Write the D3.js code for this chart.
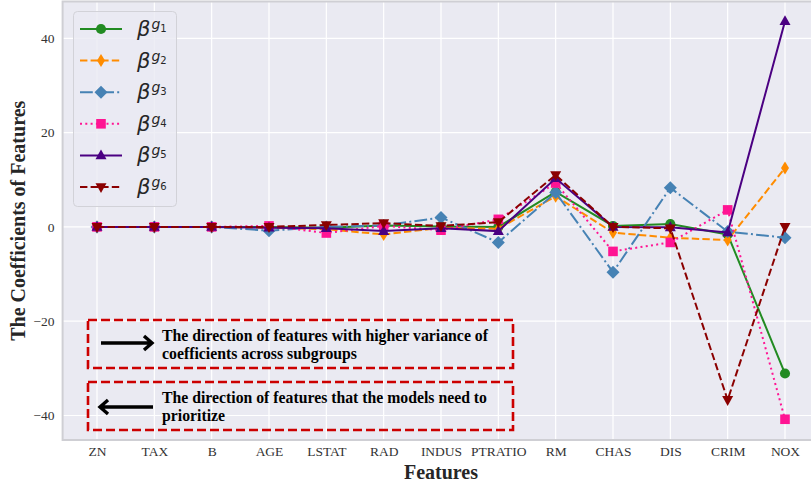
<!DOCTYPE html>
<html lang="en">
<head>
<meta charset="UTF-8">
<title>Coefficients of Features</title>
<style>
  body { margin: 0; background: #fff; }
  svg { display: block; }
  .tick text { font-family: "Liberation Serif", "Times New Roman", serif; }
</style>
</head>
<body>
<script src="https://cdnjs.cloudflare.com/ajax/libs/d3/7.8.5/d3.min.js"></script>
<script>
'use strict';
// feature names on the x axis
const features = ["ZN", "TAX", "B", "AGE", "LSTAT", "RAD", "INDUS", "PTRATIO", "RM", "CHAS", "DIS", "CRIM", "NOX"];
const yTicks = [-40, -20, 0, 20, 40];

// coefficients per subgroup
const g1 = [0, 0, 0, 0, -0.2, 0.3, 0.1, 0, 7.4, 0.2, 0.6, -1.6, -31.1];
const g2 = [0, 0, 0, -0.2, -0.5, -1.6, -0.2, -0.4, 6.5, -1.2, -2.3, -2.8, 12.5];
const g3 = [0, 0, 0, -0.8, 0, 0.3, 2.0, -3.3, 7.3, -9.6, 8.3, -1.0, -2.3];
const g4 = [0, 0, 0, 0.2, -1.3, 0.2, -0.7, 1.6, 9.3, -5.2, -3.3, 3.6, -40.8];
const g5 = [0, 0, 0, -0.2, -0.3, -0.9, -0.3, -0.9, 10.3, 0, -0.1, -1.2, 43.6];
const g6 = [0, 0, 0, 0, 0.4, 0.8, 0.2, 1.0, 11.0, 0, -0.3, -36.7, 0];

const groupNames = ["1", "2", "3", "4", "5", "6"];

const series = [
  {name: groupNames[0], values: g1, color: "#228B22", dash: null, marker: "circle"},
  {name: groupNames[1], values: g2, color: "#FF8C00", dash: "7.4,3.2", marker: "thin_diamond"},
  {name: groupNames[2], values: g3, color: "#4682B4", dash: "12.8,3.2,2,3.2", marker: "diamond"},
  {name: groupNames[3], values: g4, color: "#FF1493", dash: "2,3.3", marker: "square"},
  {name: groupNames[4], values: g5, color: "#4B0082", dash: null, marker: "triangle_up"},
  {name: groupNames[5], values: g6, color: "#8B0000", dash: "7.4,3.2", marker: "triangle_down"}
];

const W = 811, H = 486;
const svg = d3.select("body").append("svg").attr("width", W).attr("height", H);

const x = d3.scalePoint().domain(features).range([97, 785]);
const step = x.step();
const plotL = x(features[0]) - 0.6 * step;
const plotR = x(features[features.length - 1]) + 0.6 * step;
const plotT = 1.5, plotB = 440;
const y = d3.scaleLinear().domain([-45.2, 47.8]).range([plotB, plotT]);

// plot background
svg.append("rect")
  .attr("x", plotL).attr("y", plotT)
  .attr("width", plotR - plotL).attr("height", plotB - plotT)
  .attr("fill", "#EAEAF2");

// grid
svg.append("g").selectAll("line").data(yTicks).enter().append("line")
  .attr("x1", plotL).attr("x2", plotR)
  .attr("y1", d => y(d)).attr("y2", d => y(d))
  .attr("stroke", "#fff").attr("stroke-width", 1.2);
svg.append("g").selectAll("line").data(features).enter().append("line")
  .attr("x1", d => x(d)).attr("x2", d => x(d))
  .attr("y1", plotT).attr("y2", plotB)
  .attr("stroke", "#fff").attr("stroke-width", 1.2);

// frame
svg.append("rect")
  .attr("x", plotL).attr("y", plotT)
  .attr("width", plotR - plotL).attr("height", plotB - plotT)
  .attr("fill", "none").attr("stroke", "#cfcfd4").attr("stroke-width", 2);

// axes (labels only, no tick marks)
const yAxis = svg.append("g")
  .attr("transform", `translate(${plotL},0)`)
  .call(d3.axisLeft(y).tickValues(yTicks).tickSize(0).tickPadding(8)
    .tickFormat(d => d < 0 ? "\u2212" + Math.abs(d) : d));
yAxis.select(".domain").remove();
yAxis.selectAll("text").attr("font-size", 13.5).attr("fill", "#333");

const xAxis = svg.append("g")
  .attr("transform", `translate(0,${plotB})`)
  .call(d3.axisBottom(x).tickSize(0).tickPadding(6));
xAxis.select(".domain").remove();
xAxis.selectAll("text").attr("font-size", 13.5).attr("fill", "#333").attr("dy", "0.72em");

// axis titles
svg.append("text")
  .attr("x", 441).attr("y", 478.5)
  .attr("text-anchor", "middle")
  .attr("font-family", "Liberation Serif, serif").attr("font-weight", "bold")
  .attr("font-size", 20).attr("fill", "#262626")
  .text("Features");
svg.append("text")
  .attr("transform", `translate(25,${(plotT + plotB) / 2}) rotate(-90)`)
  .attr("text-anchor", "middle")
  .attr("font-family", "Liberation Serif, serif").attr("font-weight", "bold")
  .attr("font-size", 20).attr("fill", "#262626")
  .text("The Coefficients of Features");

// marker shapes
function markerPath(type) {
  switch (type) {
    case "circle": return d3.symbol(d3.symbolCircle, 80)();
    case "thin_diamond": return "M0,-6.5L4,0L0,6.5L-4,0Z";
    case "diamond": return "M0,-6.5L6.5,0L0,6.5L-6.5,0Z";
    case "square": return "M-4.8,-4.8H4.8V4.8H-4.8Z";
    case "triangle_up": return "M0,-6L5.5,3.8L-5.5,3.8Z";
    case "triangle_down": return "M0,6L5.5,-3.8L-5.5,-3.8Z";
  }
}

const line = d3.line().x((d, i) => x(features[i])).y(d => y(d));

const plot = svg.append("g");
series.forEach(s => {
  const g = plot.append("g");
  g.append("path")
    .attr("d", line(s.values))
    .attr("fill", "none")
    .attr("stroke", s.color)
    .attr("stroke-width", 2)
    .attr("stroke-dasharray", s.dash);
  g.selectAll("path.m").data(s.values).enter().append("path")
    .attr("class", "m")
    .attr("d", markerPath(s.marker))
    .attr("transform", (d, i) => `translate(${x(features[i])},${y(d)})`)
    .attr("fill", s.color);
});

// legend
const legend = svg.append("g");
legend.append("rect")
  .attr("x", 73.5).attr("y", 11.5).attr("width", 103).attr("height", 195)
  .attr("rx", 4)
  .attr("fill", "#EAEAF2").attr("fill-opacity", 0.8)
  .attr("stroke", "#d2d2d8").attr("stroke-width", 1);
series.forEach((s, i) => {
  const cy = 29 + i * 31.6;
  const row = legend.append("g");
  row.append("line")
    .attr("x1", 80).attr("x2", 122).attr("y1", cy).attr("y2", cy)
    .attr("stroke", s.color).attr("stroke-width", 2)
    .attr("stroke-dasharray", s.dash);
  row.append("path")
    .attr("d", markerPath(s.marker))
    .attr("transform", `translate(101,${cy})`)
    .attr("fill", s.color);
  const t = row.append("text")
    .attr("x", 137).attr("y", cy + 7)
    .attr("font-family", "DejaVu Sans, sans-serif")
    .attr("font-style", "italic").attr("fill", "#262626");
  t.append("tspan").attr("font-size", 21).text("\u03B2");
  t.append("tspan").attr("font-size", 14).attr("dx", 1).attr("dy", -7).text("g");
  t.append("tspan").attr("font-size", 10).attr("font-style", "normal").attr("dy", 3).text(s.name);
});

// annotation boxes
const notes = [
  {y0: 320, y1: 368, dir: "right", lines: ["The direction of features with higher variance of", "coefficients across subgroups"], widths: [326, 195]},
  {y0: 382, y1: 430, dir: "left", lines: ["The direction of features that the models need to", "prioritize"], widths: [325, 63]}
];
notes.forEach(n => {
  const g = svg.append("g");
  g.append("rect")
    .attr("x", 88).attr("y", n.y0).attr("width", 425).attr("height", n.y1 - n.y0)
    .attr("fill", "none").attr("stroke", "#cc0000").attr("stroke-width", 2.6)
    .attr("stroke-dasharray", "9,4");
  const ay = (n.y0 + n.y1) / 2 - (n.dir === "right" ? 1 : -1);
  const tip = n.dir === "right" ? 152 : 100;
  const tail = n.dir === "right" ? 101 : 153;
  const back = n.dir === "right" ? -8 : 8;
  g.append("path")
    .attr("d", `M${tail},${ay}L${tip},${ay}M${tip + back},${ay - 7}L${tip},${ay}L${tip + back},${ay + 7}`)
    .attr("fill", "none").attr("stroke", "#000").attr("stroke-width", 3.4);
  n.lines.forEach((l, j) => {
    g.append("text")
      .attr("x", 162).attr("y", n.y0 + 21 + j * 18)
      .attr("font-family", "Liberation Serif, serif").attr("font-weight", "bold")
      .attr("font-size", 16).attr("fill", "#000")
      .attr("textLength", n.widths[j]).attr("lengthAdjust", "spacingAndGlyphs")
      .text(l);
  });
});
</script>
</body>
</html>
